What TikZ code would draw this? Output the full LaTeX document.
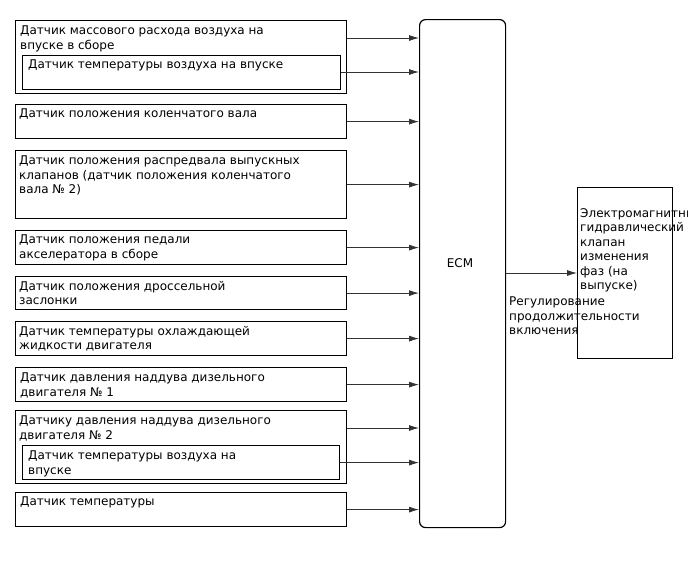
\documentclass[tikz,border=0pt]{standalone}
\usepackage{fontspec}
\setmainfont{DejaVu Sans}
\usetikzlibrary{arrows.meta}
\begin{document}
\begin{tikzpicture}[x=1pt,y=-1pt,
  box/.style={draw=black,line width=1.2pt,anchor=north west,inner sep=0pt,minimum width=#1},
  box/.default=331pt,
  txt/.style={anchor=north west,inner sep=0pt,align=left,font=\fontsize{12}{14.5}\selectfont},
  arr/.style={draw=black!80,line width=0.8pt,-{Latex[length=10pt,width=6pt]}}]
\useasboundingbox (0,0) rectangle (688,560);
% ECM
\node[draw=black,line width=1.2pt,rounded corners=6pt,anchor=north west,inner sep=0pt,minimum width=86pt,minimum height=508pt] (ecm) at (419,19) {};
\node[txt,anchor=center] (ecmt) at (460,263) {ECM};
% boxes
\node[box,minimum height=73pt] (b1) at (15,20) {};
\node[box=318pt,minimum height=34pt] (b1i) at (22,55) {};
\node[box,minimum height=34pt] (b2) at (15,104) {};
\node[box,minimum height=68pt] (b3) at (15,150) {};
\node[box,minimum height=34pt] (b4) at (15,230) {};
\node[box,minimum height=33pt] (b5) at (15,276) {};
\node[box,minimum height=34pt] (b6) at (15,321) {};
\node[box,minimum height=34pt] (b7) at (15,367) {};
\node[box,minimum height=73pt] (b8) at (15,410) {};
\node[box=317pt,minimum height=34pt] (b8i) at (22,445) {};
\node[box,minimum height=34pt] (b9) at (15,492) {};
\node[box=95pt,minimum height=171pt] (out) at (577,187) {};
% texts
\node[txt] (t1) at (20,26) {Датчик массового расхода воздуха на\\впуске в сборе};
\node[txt] (t1i) at (28,60) {Датчик температуры воздуха на впуске};
\node[txt] (t2) at (19,109) {Датчик положения коленчатого вала};
\node[txt] (t3) at (19,156) {Датчик положения распредвала выпускных\\клапанов (датчик положения коленчатого\\вала № 2)};
\node[txt] (t4) at (19,235) {Датчик положения педали\\акселератора в сборе};
\node[txt] (t5) at (19,281) {Датчик положения дроссельной\\заслонки};
\node[txt] (t6) at (19,326) {Датчик температуры охлаждающей\\жидкости двигателя};
\node[txt] (t7) at (20,373) {Датчик давления наддува дизельного\\двигателя № 1};
\node[txt] (t8) at (19,416) {Датчику давления наддува дизельного\\двигателя № 2};
\node[txt] (t8i) at (28,451) {Датчик температуры воздуха на\\впуске};
\node[txt] (t9) at (20,497) {Датчик температуры};
\node[txt] (tout) at (580,208) {Электромагнитный\\гидравлический\\клапан\\изменения\\фаз (на\\выпуске)};
\node[txt] (tlab) at (509,297) {Регулирование\\продолжительности\\включения};
% arrows
\draw[arr] (b1.east |- 0,38) -- (ecm.west |- 0,38);
\draw[arr] (b1i.east |- 0,72) -- (ecm.west |- 0,72);
\draw[arr] (b2.east) -- (ecm.west |- b2.east);
\draw[arr] (b3.east) -- (ecm.west |- b3.east);
\draw[arr] (b4.east) -- (ecm.west |- b4.east);
\draw[arr] (b5.east) -- (ecm.west |- b5.east);
\draw[arr] (b6.east) -- (ecm.west |- b6.east);
\draw[arr] (b7.east) -- (ecm.west |- b7.east);
\draw[arr] (b8.east |- 0,428) -- (ecm.west |- 0,428);
\draw[arr] (b8i.east) -- (ecm.west |- b8i.east);
\draw[arr] (b9.east) -- (ecm.west |- b9.east);
\draw[arr] (ecm.east |- 0,273) -- (out.west |- 0,273);
\end{tikzpicture}
\end{document}
